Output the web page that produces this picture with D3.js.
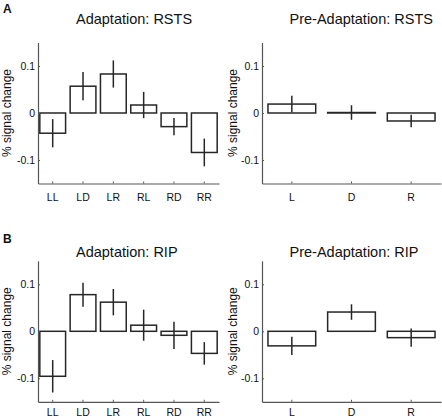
<!DOCTYPE html>
<html>
<head>
<meta charset="utf-8">
<script src="https://cdn.jsdelivr.net/npm/d3@7"></script>
<style>
  html, body { margin: 0; padding: 0; background: #fff; }
  svg { display: block; font-family: "Liberation Sans", Arial, sans-serif; }
</style>
</head>
<body>
<svg id="chart" width="442" height="418"></svg>
<script>
// ---- data ----
const adaptCategories = ["LL", "LD", "LR", "RL", "RD", "RR"];
const preCategories = ["L", "D", "R"];
const yTicks = [-0.1, 0, 0.1];

const rstsAdaptMean = [-0.043, 0.057, 0.083, 0.017, -0.029, -0.084];
const rstsAdaptErr  = [0.030, 0.030, 0.029, 0.028, 0.0185, 0.0295];
const rstsPreMean   = [0.019, 0.001, -0.017];
const rstsPreErr    = [0.0175, 0.0155, 0.0135];

const ripAdaptMean  = [-0.0957, 0.078, 0.062, 0.013, -0.0085, -0.047];
const ripAdaptErr   = [0.0345, 0.0255, 0.028, 0.033, 0.029, 0.024];
const ripPreMean    = [-0.031, 0.041, -0.0135];
const ripPreErr     = [0.0195, 0.0165, 0.0195];

const titles = ["Adaptation: RSTS", "Pre-Adaptation: RSTS", "Adaptation: RIP", "Pre-Adaptation: RIP"];
const panelLetters = ["A", "B"];
const yLabel = "% signal change";

// ---- layout ----
const svg = d3.select("#chart");
const ink = "#262626";

const panels = [
  {cats: adaptCategories, mean: rstsAdaptMean, err: rstsAdaptErr, title: titles[0],
   x0: 38, x1: 219, yTop: 42.5, yBot: 183.5, pi: 0.15, po: 0.06, titleX: 76, titleY: 24, labelX: 11, pad: 10},
  {cats: preCategories, mean: rstsPreMean, err: rstsPreErr, title: titles[1],
   x0: 262, x1: 441, yTop: 42.5, yBot: 183.5, pi: 0.2, po: 0.1, titleX: 289.5, titleY: 24, labelX: 237, pad: 10},
  {cats: adaptCategories, mean: ripAdaptMean, err: ripAdaptErr, title: titles[2],
   x0: 38, x1: 219, yTop: 260.8, yBot: 401.8, pi: 0.15, po: 0.06, titleX: 76, titleY: 257, labelX: 11, pad: 6.5},
  {cats: preCategories, mean: ripPreMean, err: ripPreErr, title: titles[3],
   x0: 262, x1: 441, yTop: 260.8, yBot: 401.8, pi: 0.2, po: 0.1, titleX: 289.5, titleY: 257, labelX: 237, pad: 6.5}
];

const fmt = d => d === 0 ? "0" : String(d);

panels.forEach(p => {
  const x = d3.scaleBand().domain(p.cats).range([p.x0, p.x1])
    .paddingInner(p.pi).paddingOuter(p.po);
  const y = d3.scaleLinear().domain([-0.15, 0.15]).range([p.yBot, p.yTop]);
  const g = svg.append("g");

  // bars
  g.selectAll("rect.bar").data(p.mean).join("rect")
    .attr("class", "bar")
    .attr("x", (d, i) => x(p.cats[i]))
    .attr("width", x.bandwidth())
    .attr("y", d => Math.min(y(d), y(0)))
    .attr("height", d => Math.abs(y(d) - y(0)))
    .attr("fill", "#fff")
    .attr("stroke", ink)
    .attr("stroke-width", 1.5);

  // error bars
  g.selectAll("line.err").data(p.mean).join("line")
    .attr("class", "err")
    .attr("x1", (d, i) => x(p.cats[i]) + x.bandwidth() / 2)
    .attr("x2", (d, i) => x(p.cats[i]) + x.bandwidth() / 2)
    .attr("y1", (d, i) => y(d - p.err[i]))
    .attr("y2", (d, i) => y(d + p.err[i]))
    .attr("stroke", ink)
    .attr("stroke-width", 1.5);

  // axes
  const yAxis = d3.axisLeft(y).tickValues(yTicks).tickFormat(fmt)
    .tickSizeInner(-2).tickSizeOuter(0).tickPadding(3);
  const ya = g.append("g").attr("transform", `translate(${p.x0},0)`).call(yAxis);

  const xAxis = d3.axisBottom(x).tickSizeInner(-2).tickSizeOuter(0).tickPadding(p.pad);
  const xa = g.append("g").attr("transform", `translate(0,${p.yBot})`).call(xAxis);

  [ya, xa].forEach(a => {
    a.attr("color", "#111");
    a.select(".domain").attr("stroke", "#555").attr("stroke-width", 1.2);
    a.selectAll(".tick line").attr("stroke", "#555");
    a.selectAll(".tick text")
      .attr("fill", "#111")
      .style("fill", "#111")
      .style("font-size", "10.5px")
      .style("font-family", "'Liberation Sans', Arial, sans-serif");
  });

  // title
  svg.append("text")
    .attr("x", p.titleX).attr("y", p.titleY)
    .attr("fill", "#111")
    .style("font-size", "14.5px")
    .text(p.title);

  // y label
  svg.append("text")
    .attr("transform", `translate(${p.labelX},${(p.yTop + p.yBot) / 2}) rotate(-90)`)
    .attr("text-anchor", "middle")
    .attr("fill", "#111")
    .style("font-size", "12px")
    .text(yLabel);
});

// panel letters
svg.append("text").attr("x", 3).attr("y", 12.5)
  .style("font-size", "12px").style("font-weight", "bold").attr("fill", "#111")
  .text(panelLetters[0]);
svg.append("text").attr("x", 3).attr("y", 243)
  .style("font-size", "12px").style("font-weight", "bold").attr("fill", "#111")
  .text(panelLetters[1]);
</script>
</body>
</html>
